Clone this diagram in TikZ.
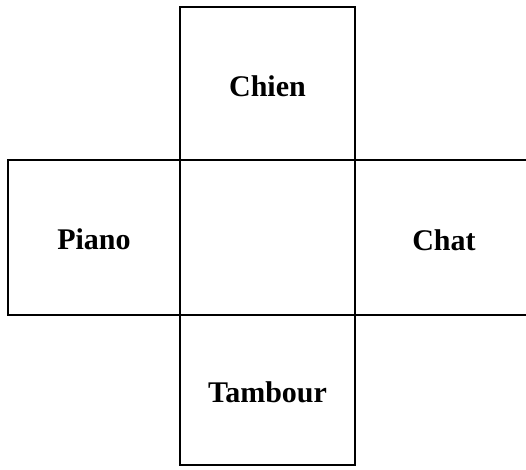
\documentclass[tikz,border=0pt]{standalone}
\usepackage{fontspec}
\setmainfont{Liberation Serif}
\usepackage{tikz}

\begin{document}
\begin{tikzpicture}[
  x=0.75pt, y=-0.75pt,
  cell/.style={rectangle, draw, line width=2.2pt, inner sep=0pt, outer sep=0pt,
               minimum width=131.25pt, minimum height=116.25pt,
               text height=19pt, text depth=0pt,
               font=\fontsize{22.5}{26}\selectfont\bfseries}
]
\useasboundingbox (0,0) rectangle (526,470);
\clip (0,0) rectangle (526,470);

%% Centre and its four neighbours
\node[cell] at (267.5,237.5) (centre) {};
\node[cell, minimum height=114.75pt] at (267.5,83.5) (chien) {Chien};
\node[cell, minimum width=129pt, text height=17.5pt] at (94,237.5) (piano) {Piano};
\node[cell, minimum width=133.5pt] at (444,237.5) (chat) {Chat};
\node[cell, minimum height=112.5pt] at (267.5,390) (tambour) {Tambour};
\end{tikzpicture}
\end{document}
